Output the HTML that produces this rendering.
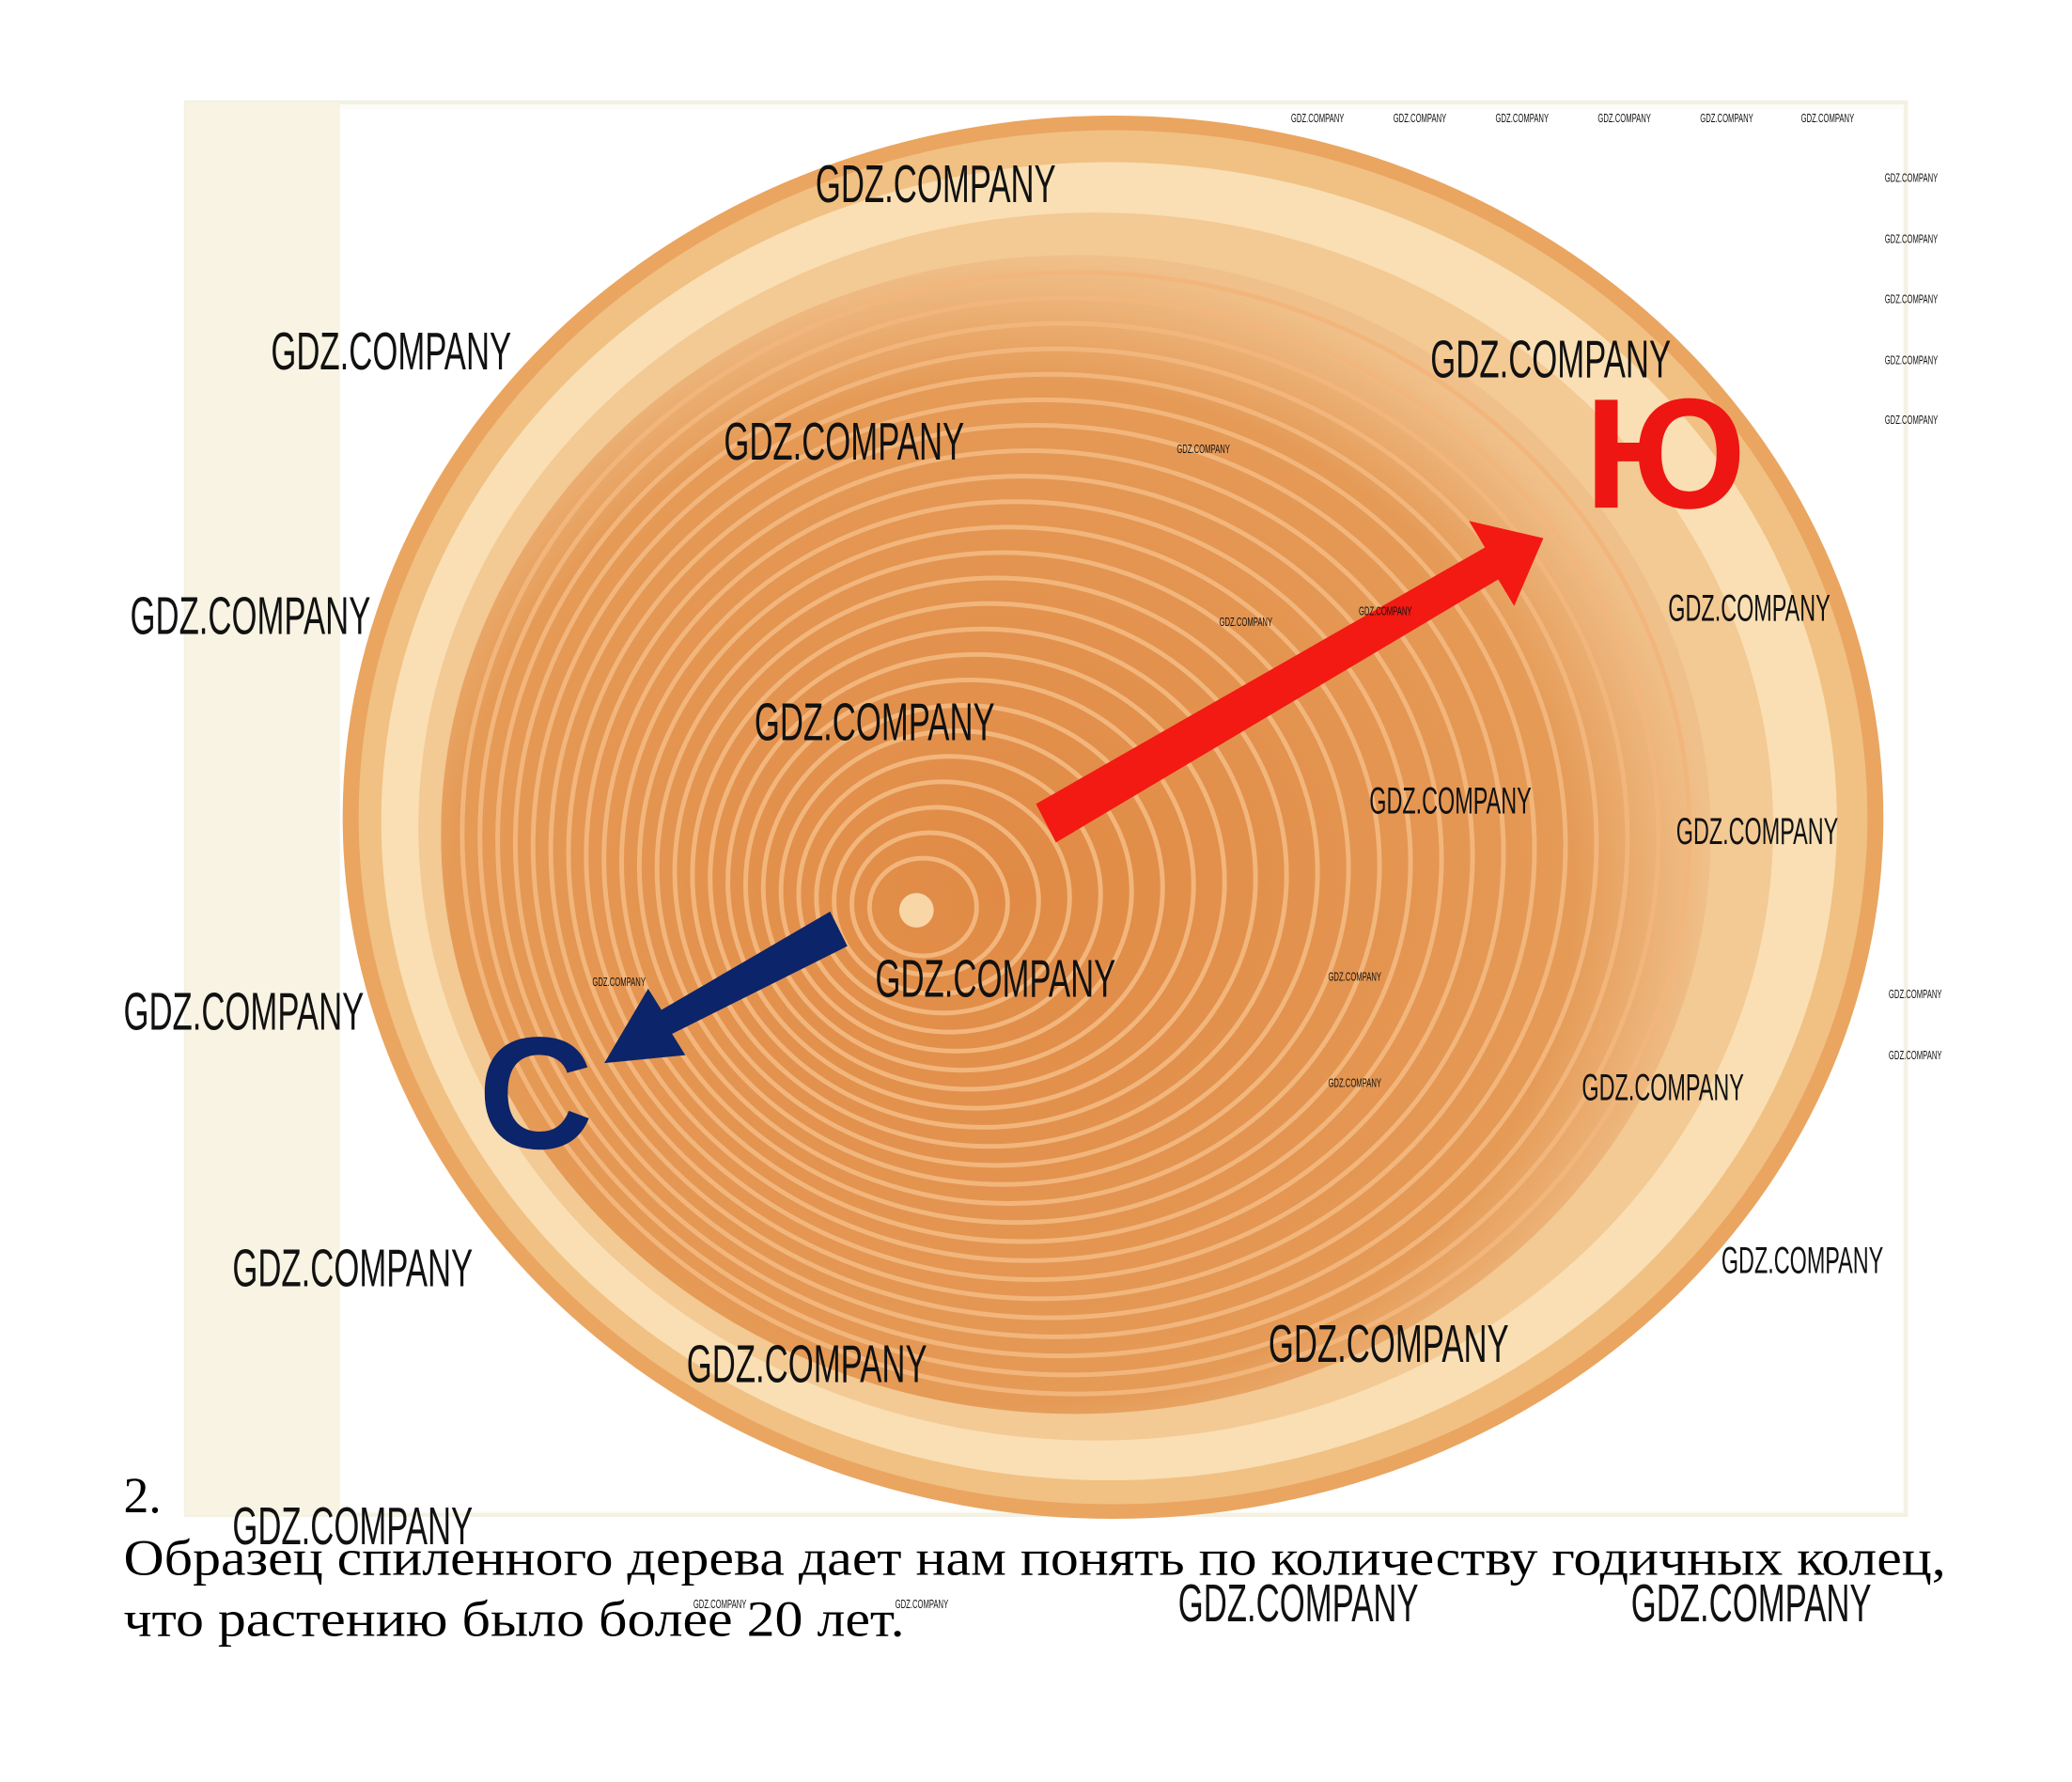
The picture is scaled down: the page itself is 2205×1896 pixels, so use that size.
<!DOCTYPE html>
<html><head><meta charset="utf-8"><style>html,body{margin:0;padding:0;background:#fff}svg{display:block}</style></head>
<body>
<svg id="s" width="2205" height="1896" viewBox="0 0 1560 1341" preserveAspectRatio="none" xmlns="http://www.w3.org/2000/svg">
<defs>
<radialGradient id="hw" cx="0.45" cy="0.55" r="0.55">
<stop offset="0" stop-color="#e08a45"/>
<stop offset="0.8" stop-color="#e59a56"/>
<stop offset="1" stop-color="#f0c08a"/>
</radialGradient>
</defs>
<rect x="0" y="0" width="1560" height="1341" fill="#ffffff"/>
<rect x="140" y="77" width="1295" height="1063" fill="#fdfcf6" stroke="#f3f1e2" stroke-width="3"/>
<rect x="140" y="77" width="116" height="1063" fill="#f8f3e2"/>
<rect x="256" y="82" width="1176" height="1055" fill="#ffffff"/>
<g id="tree">
<ellipse cx="838" cy="615" rx="580" ry="528" fill="#eaa560"/>
<ellipse cx="838" cy="615" rx="568" ry="517" fill="#f1c083"/>
<ellipse cx="835" cy="618" rx="548" ry="496" fill="#f9dfb3"/>
<ellipse cx="825" cy="622" rx="510" ry="462" fill="#f3c994"/>
<ellipse cx="810" cy="628" rx="478" ry="436" fill="url(#hw)"/>
<g id="rings"></g>
<circle cx="690" cy="685" r="13" fill="#f8d6a6"/>
</g>
<polygon points="780,605 1118,412 1106,392 1162,405 1140,456 1128,436 795,634" fill="#f21a12"/>
<polygon points="625,686 498,760 488,744 455,800 516,794 506,778 638,712" fill="#0c2469"/>
<text x="1193" y="382" font-family="Liberation Sans, sans-serif" font-weight="bold" font-size="118" fill="#ee1612">Ю</text>
<text x="360" y="864" font-family="Liberation Sans, sans-serif" font-weight="bold" font-size="120" fill="#0c2469">С</text>
<g id="wm" font-family="Liberation Sans, sans-serif" fill="#111"></g>
<text x="93" y="1138" font-family="Liberation Serif, serif" font-size="38" fill="#000">2.</text>
<text x="93" y="1185" font-family="Liberation Serif, serif" font-size="38" fill="#000" textLength="1372" lengthAdjust="spacingAndGlyphs">Образец спиленного дерева дает нам понять по количеству годичных колец,</text>
<text x="93" y="1231" font-family="Liberation Serif, serif" font-size="38" fill="#000" textLength="588" lengthAdjust="spacingAndGlyphs">что растению было более 20 лет.</text>
</svg>
<script>
var NS="http://www.w3.org/2000/svg";
var rg=document.getElementById('rings');
for(var i=1;i<=24;i++){var t=i/24;var e=document.createElementNS(NS,'ellipse');


e.setAttribute('cx',690+120*t);e.setAttribute('cy',685-58*t);e.setAttribute('rx',22+440*t);e.setAttribute('ry',20+402*t);
e.setAttribute('fill','none');e.setAttribute('stroke','#f2b67c');e.setAttribute('stroke-width',3.5);rg.appendChild(e);}
var big=[[614,152],[204,278],[1077,284],[545,346],[98,477],[568,557],[659,750],[93,775],[175,968],[517,1040],[955,1025],[175,1162],[887,1220],[1228,1220]];
var mid=[[1256,467,122],[1031,612,122],[1262,635,122],[1191,828,122],[1296,958,122]];
var small=[[972,92],[1049,92],[1126,92],[1203,92],[1280,92],[1356,92],[1419,137],[1419,183],[1419,228],[1419,274],[1419,319],[1422,751],[1422,797],[1023,463],[446,742],[886,341],[918,471],[522,1210],[674,1210],[1000,738],[1000,818]];
var wm=document.getElementById('wm');
function add(x,y,fs,len){var t=document.createElementNS(NS,'text');


t.setAttribute('x',x);t.setAttribute('y',y);t.setAttribute('font-size',fs);t.setAttribute('textLength',len);t.setAttribute('lengthAdjust','spacingAndGlyphs');t.textContent='GDZ.COMPANY';wm.appendChild(t);}
big.forEach(function(p){add(p[0],p[1],40,181);});
mid.forEach(function(p){add(p[0],p[1],28,p[2]);});
small.forEach(function(p){add(p[0],p[1],9,40);});
</script>
</body></html>
